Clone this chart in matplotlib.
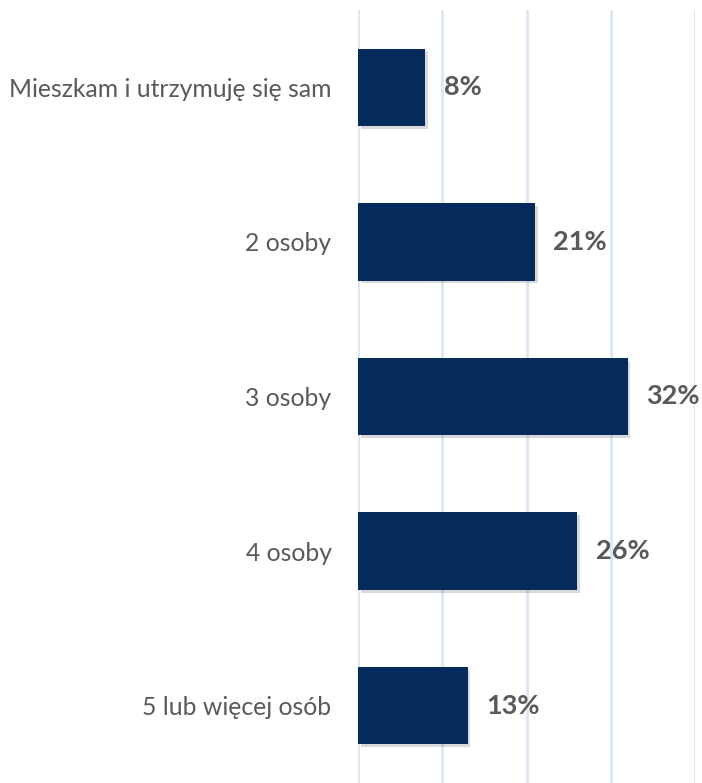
import matplotlib
matplotlib.use("Agg")
import matplotlib.pyplot as plt
import matplotlib.patheffects as pe

# --- Data ---
categories = ["Mieszkam i utrzymuję się sam", "2 osoby", "3 osoby", "4 osoby", "5 lub więcej osób"]
values = [8, 21, 32, 26, 13]
value_labels = ["8%", "21%", "32%", "26%", "13%"]

bar_color = "#062a5a"
grid_color = "#dbe7f5"
text_color = "#595959"

plt.rcParams["font.family"] = ["Lato", "DejaVu Sans"]

fig = plt.figure(figsize=(7.02, 7.83), dpi=100)
ax = fig.add_axes([358 / 702, 0.0, (695 - 358) / 702, 1 - 10 / 783])

ypos = list(range(len(categories)))
bars = ax.barh(ypos, values, height=0.5, color=bar_color, zorder=3)
for b in bars:
    b.set_path_effects([pe.SimplePatchShadow(offset=(2, -2), shadow_rgbFace="#000000", alpha=0.15), pe.Normal()])

for y, v, lab in zip(ypos, values, value_labels):
    ax.text(v + 2.2, y, lab, va="center", ha="left", fontsize=19.5,
            fontweight="bold", color=text_color, zorder=4)

ax.set_xlim(0, 40)
ax.set_ylim(len(categories) - 0.5, -0.5)
ax.set_xticks([0, 10, 20, 30, 40])
ax.set_xticklabels([])
ax.grid(axis="x", color=grid_color, linewidth=2, zorder=0)
ax.tick_params(axis="x", length=0)
ax.tick_params(axis="y", length=0, pad=19, labelsize=17.8, labelcolor=text_color)
ax.set_yticks(ypos)
ax.set_yticklabels(categories)
for s in ax.spines.values():
    s.set_visible(False)

fig.savefig("out.png", dpi=100)
